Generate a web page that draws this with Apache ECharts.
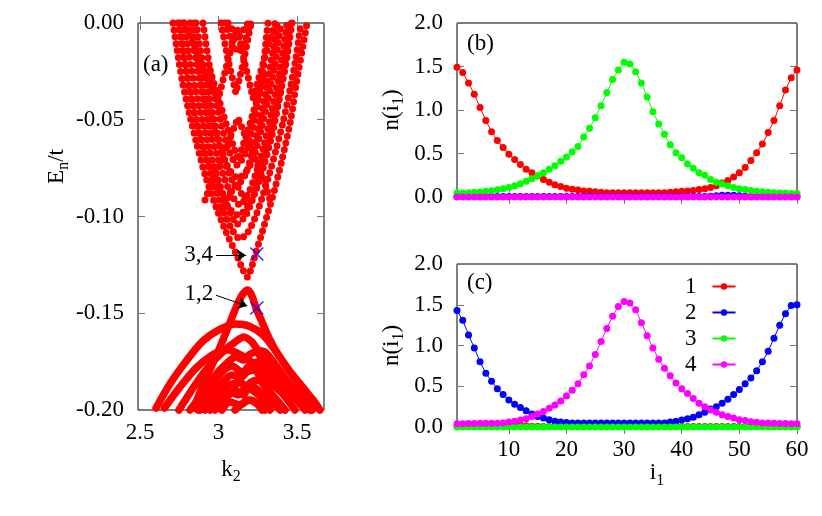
<!DOCTYPE html>
<html>
<head>
<meta charset="utf-8">
<title>Band structure and edge-state densities</title>
<script src="https://cdn.jsdelivr.net/npm/echarts@6/dist/echarts.min.js"></script>
<style>
  html, body { margin: 0; padding: 0; background: #fff; }
  #chart { width: 822px; height: 516px; }
</style>
</head>
<body>
<div id="chart"></div>
<script>
// ---- panel (a): bands E_n(k2) ----
// upper (conduction) bands, drawn dotted
const bandU1 = [[2.710,0],[2.736,-0.014],[2.768,-0.0295],[2.812,-0.046],[2.863,-0.063],[2.920,-0.080],[2.984,-0.095],[3.048,-0.108],[3.111,-0.119],[3.156,-0.1276],[3.185,-0.1313],[3.213,-0.1256],[3.239,-0.1183],[3.271,-0.110],[3.315,-0.098],[3.360,-0.0853],[3.404,-0.0708],[3.436,-0.0594],[3.462,-0.0491],[3.494,-0.032],[3.532,-0.0145],[3.564,0]];
const bandU2 = [[2.742,0],[2.774,-0.0165],[2.812,-0.0336],[2.857,-0.050],[2.908,-0.0667],[2.965,-0.0822],[3.022,-0.0956],[3.080,-0.106],[3.137,-0.1116],[3.188,-0.108],[3.232,-0.1008],[3.277,-0.0904],[3.322,-0.0786],[3.366,-0.0656],[3.411,-0.0512],[3.455,-0.0346],[3.494,-0.0176],[3.525,0]];
const bandU3 = [[2.780,0],[2.812,-0.0165],[2.850,-0.0336],[2.895,-0.05],[2.946,-0.0667],[3.003,-0.0822],[3.061,-0.0956],[3.118,-0.1039],[3.175,-0.0992],[3.220,-0.0904],[3.264,-0.0786],[3.309,-0.0656],[3.354,-0.0512],[3.398,-0.0346],[3.436,-0.0176],[3.468,0]];
const bandU4 = [[2.818,0],[2.857,-0.0191],[2.901,-0.0398],[2.952,-0.0579],[3.010,-0.0734],[3.073,-0.0873],[3.137,-0.0941],[3.194,-0.0873],[3.245,-0.076],[3.290,-0.063],[3.334,-0.0475],[3.379,-0.0295],[3.417,-0.0114],[3.436,0]];
const bandU5 = [[2.857,0],[2.901,-0.0217],[2.952,-0.0424],[3.003,-0.0605],[3.061,-0.076],[3.111,-0.0842],[3.169,-0.0786],[3.220,-0.0656],[3.264,-0.05],[3.309,-0.032],[3.347,-0.014],[3.373,0]];
const bandU6 = [[2.901,0],[2.946,-0.0243],[2.997,-0.045],[3.054,-0.063],[3.118,-0.0734],[3.182,-0.0656],[3.232,-0.0491],[3.277,-0.0295],[3.303,-0.0088],[3.315,0]];
const bandU7 = [[2.755,0],[2.787,-0.0191],[2.831,-0.0398],[2.882,-0.0579],[2.939,-0.0734],[3.003,-0.0863],[3.067,-0.0956],[3.124,-0.0992],[3.182,-0.0956],[3.239,-0.0863],[3.290,-0.0734],[3.341,-0.0579],[3.385,-0.0398],[3.430,-0.0191],[3.462,0]];
const bandU8 = [[2.838,0],[2.876,-0.0217],[2.920,-0.0398],[2.971,-0.0553],[3.029,-0.0693],[3.080,-0.077],[3.124,-0.0801],[3.175,-0.077],[3.226,-0.0693],[3.271,-0.0553],[3.315,-0.0398],[3.360,-0.0217],[3.398,0]];
const bandU9 = [[3.041,0],[3.080,-0.0088],[3.124,-0.015],[3.169,-0.0088],[3.207,0]];
// crossing branches that make the diamond holes
const bandZ1 = [[2.780,0],[2.850,-0.014],[2.920,-0.0269],[2.997,-0.0398],[3.054,-0.0212],[3.118,-0.0026],[3.169,-0.0212],[3.220,-0.0388],[3.290,-0.0191],[3.360,0]];
const bandV1 = [[3.016,0],[3.061,-0.0191],[3.111,-0.0362],[3.162,-0.0191],[3.207,0]];
const bandN1 = [[3.061,0],[3.124,-0.0078],[3.188,0]];
const bandZ2 = [[2.914,-0.0915],[2.959,-0.0811],[3.041,-0.0656],[3.124,-0.0491],[3.207,-0.0656],[3.290,-0.0811],[3.328,-0.0915]];
const bandV2 = [[2.946,-0.0243],[3.003,-0.0398],[3.061,-0.0553],[3.124,-0.0708],[3.188,-0.0553],[3.245,-0.0398],[3.296,-0.0243]];
const bandN2 = [[3.022,-0.0966],[3.111,-0.0827],[3.201,-0.0966]];

// lower (valence) bands, drawn solid
const bandL1 = [[2.844,-0.199],[2.901,-0.1871],[2.959,-0.1767],[3.010,-0.1674],[3.054,-0.1587],[3.092,-0.1509],[3.124,-0.1447],[3.156,-0.140],[3.188,-0.138],[3.213,-0.1411],[3.239,-0.1473],[3.277,-0.1545],[3.322,-0.1628],[3.373,-0.1705],[3.430,-0.1773],[3.487,-0.1835],[3.545,-0.1897],[3.602,-0.1948],[3.646,-0.2]];
const bandL2 = [[2.602,-0.199],[2.687,-0.1869],[2.793,-0.1748],[2.899,-0.1645],[3.005,-0.1585],[3.111,-0.1556],[3.196,-0.1567],[3.282,-0.1611],[3.366,-0.1697],[3.451,-0.18],[3.557,-0.1903],[3.632,-0.199]];
const bandL3 = [[2.655,-0.199],[2.750,-0.1886],[2.857,-0.1783],[2.963,-0.1714],[3.048,-0.1688],[3.175,-0.1731],[3.303,-0.1818],[3.430,-0.1903],[3.578,-0.199]];
const bandL4 = [[2.748,-0.2],[2.850,-0.1871],[2.946,-0.1767],[3.041,-0.169],[3.105,-0.1649],[3.162,-0.1623],[3.213,-0.1649],[3.252,-0.169],[3.296,-0.170],[3.341,-0.1742],[3.424,-0.1835],[3.506,-0.1912],[3.596,-0.2]];
const bandL5 = [[2.818,-0.2],[2.914,-0.1897],[2.997,-0.1804],[3.061,-0.1752],[3.111,-0.1726],[3.156,-0.1742],[3.201,-0.1711],[3.239,-0.170],[3.283,-0.1742],[3.328,-0.1767],[3.379,-0.1804],[3.455,-0.1871],[3.532,-0.1938],[3.583,-0.2]];
const bandL6 = [[2.882,-0.2],[2.959,-0.1922],[3.022,-0.186],[3.086,-0.1819],[3.137,-0.1835],[3.182,-0.1804],[3.226,-0.1793],[3.277,-0.1835],[3.328,-0.186],[3.404,-0.1912],[3.487,-0.2]];
const bandL7 = [[2.946,-0.2],[3.010,-0.1938],[3.073,-0.1907],[3.124,-0.1922],[3.169,-0.1886],[3.213,-0.1876],[3.264,-0.1907],[3.315,-0.1938],[3.392,-0.2]];
const bandL8 = [[3.022,-0.2],[3.073,-0.1959],[3.137,-0.1974],[3.188,-0.1948],[3.239,-0.1959],[3.296,-0.2]];
const bandL9 = [[2.914,-0.2],[2.978,-0.1922],[3.061,-0.1871],[3.137,-0.186],[3.213,-0.1897],[3.277,-0.1938],[3.328,-0.2]];
const bandL10 = [[2.869,-0.2],[2.946,-0.1886],[3.022,-0.1804],[3.086,-0.1773],[3.150,-0.1804],[3.201,-0.1767],[3.252,-0.1752],[3.303,-0.1793],[3.366,-0.1835],[3.455,-0.1907],[3.551,-0.2]];
const bandL11 = [[2.978,-0.2],[3.041,-0.1948],[3.105,-0.1897],[3.156,-0.1922],[3.201,-0.186],[3.252,-0.1845],[3.303,-0.1886],[3.360,-0.1938],[3.424,-0.2]];
const bandL12 = [[3.105,-0.2],[3.150,-0.1969],[3.201,-0.1948],[3.252,-0.1974],[3.277,-0.2]];

const dottedBands = [bandU1, bandU2, bandU3, bandU4, bandU5, bandU6, bandU7, bandU8, bandU9];
const dottedZigzags = [bandZ1, bandV1, bandN1, bandZ2, bandV2, bandN2];
const solidBands = [bandL1, bandL2, bandL3, bandL4, bandL5, bandL6, bandL7, bandL8, bandL9, bandL10, bandL11, bandL12];

// marked states and their labels
const markedStates = [[3.244, -0.1194], [3.244, -0.1473]];
const stateLabels = ['3,4', '1,2'];
const arrowFrom = [[2.984, -0.120], [2.984, -0.1407]];
const arrowTo = [[3.175, -0.120], [3.183, -0.1463]];
const kTicks = [2.5, 3, 3.5];

// ---- panels (b), (c): n(i1) for states 1..4 ----
const siteTicks = [10, 20, 30, 40, 50, 60];
const stateNames = ['1', '2', '3', '4'];
const stateColors = ['#ff0000', '#0000ff', '#00ff00', '#ff00ff'];

const nB1 = [1.49,1.43,1.31,1.18,1.03,0.88,0.75,0.65,0.57,0.49,
             0.43,0.375,0.32,0.28,0.24,0.20,0.17,0.14,0.12,0.10,
             0.09,0.08,0.07,0.065,0.06,0.055,0.05,0.05,0.05,0.05,
             0.05,0.05,0.05,0.05,0.05,0.05,0.05,0.055,0.06,0.065,
             0.07,0.075,0.085,0.095,0.11,0.13,0.16,0.19,0.23,0.28,
             0.34,0.42,0.51,0.61,0.74,0.88,1.05,1.23,1.37,1.46];
const nB2 = [0.005,0.005,0.005,0.005,0.005,0.005,0.005,0.005,0.005,0.005,
             0.005,0.005,0.005,0.005,0.005,0.005,0.005,0.005,0.005,0.005,
             0.005,0.005,0.005,0.005,0.005,0.005,0.005,0.005,0.005,0.005,
             0.005,0.005,0.005,0.005,0.005,0.005,0.005,0.005,0.005,0.005,
             0.005,0.005,0.005,0.005,0.01,0.015,0.02,0.02,0.02,0.015,
             0.01,0.005,0.005,0.005,0.005,0.005,0.005,0.005,0.005,0.005];
const nB3 = [0.045,0.046,0.05,0.054,0.057,0.065,0.073,0.084,0.096,0.11,
             0.13,0.153,0.18,0.21,0.245,0.28,0.32,0.36,0.41,0.46,
             0.52,0.58,0.69,0.79,0.91,1.05,1.2,1.35,1.46,1.55,
             1.53,1.44,1.31,1.15,0.98,0.84,0.72,0.6,0.51,0.45,
             0.38,0.33,0.28,0.25,0.2,0.17,0.15,0.13,0.11,0.095,
             0.085,0.075,0.065,0.06,0.055,0.05,0.045,0.045,0.04,0.04];
const nB4 = [0,0,0,0,0,0,0,0,0,0, 0,0,0,0,0,0,0,0,0,0, 0,0,0,0,0,0,0,0,0,0,
             0,0,0,0,0,0,0,0,0,0, 0,0,0,0,0,0,0,0,0,0, 0,0,0,0,0,0,0,0,0,0];

const nC1 = [0.005,0.005,0.005,0.005,0.005,0.008,0.01,0.015,0.02,0.02,
             0.02,0.018,0.015,0.01,0.008,0.005,0.005,0.005,0.005,0.005,
             0.005,0.005,0.005,0.005,0.005,0.005,0.005,0.005,0.005,0.005,
             0.005,0.005,0.005,0.005,0.005,0.005,0.005,0.005,0.005,0.005,
             0.005,0.005,0.005,0.005,0.005,0.005,0.005,0.005,0.005,0.005,
             0.005,0.005,0.005,0.005,0.005,0.005,0.005,0.005,0.005,0.005];
const nC2 = [1.43,1.31,1.13,0.97,0.80,0.66,0.56,0.47,0.40,0.33,
             0.28,0.24,0.20,0.16,0.13,0.11,0.09,0.07,0.06,0.055,
             0.05,0.05,0.05,0.05,0.05,0.05,0.05,0.05,0.05,0.05,
             0.05,0.05,0.05,0.05,0.05,0.05,0.05,0.06,0.07,0.085,
             0.1,0.12,0.15,0.18,0.22,0.25,0.29,0.34,0.4,0.46,
             0.53,0.6,0.69,0.8,0.93,1.09,1.25,1.39,1.49,1.5];
const nC3 = [0,0,0,0,0,0,0,0,0,0, 0,0,0,0,0,0,0,0,0,0, 0,0,0,0,0,0,0,0,0,0,
             0,0,0,0,0,0,0,0,0,0, 0,0,0,0,0,0,0,0,0,0, 0,0,0,0,0,0,0,0,0,0];
const nC4 = [0.04,0.04,0.042,0.043,0.045,0.045,0.046,0.047,0.05,0.06,
             0.07,0.085,0.1,0.13,0.16,0.19,0.23,0.27,0.32,0.38,
             0.45,0.53,0.64,0.75,0.89,1.05,1.21,1.36,1.48,1.54,
             1.52,1.44,1.28,1.12,0.97,0.83,0.72,0.63,0.54,0.47,
             0.41,0.35,0.29,0.25,0.21,0.18,0.15,0.13,0.11,0.09,
             0.08,0.065,0.057,0.05,0.048,0.045,0.043,0.042,0.04,0.04];

const panelB = [nB1, nB2, nB3, nB4];
const panelC = [nC1, nC2, nC3, nC4];

// ---- chart ----
const FONT = '"Liberation Serif", "Times New Roman", serif';
const FS = 23;
const RED = '#ff0000';

const chart = echarts.init(document.getElementById('chart'), null, { renderer: 'canvas' });

const tickStyle = { show: true, inside: true, length: 7, lineStyle: { color: '#777', width: 1 } };
const labelStyle = { color: '#000', fontFamily: FONT, fontSize: FS };
const subRich = {
    m: { fontFamily: FONT, fontSize: FS, color: '#000' },
    s: { fontFamily: FONT, fontSize: 16, color: '#000', padding: [14, 0, 0, 0] }
};

function frameAxis(gridIndex, position, extra) {
    return Object.assign({
        gridIndex: gridIndex,
        type: 'value',
        position: position,
        axisLine: { show: false },
        axisTick: tickStyle,
        axisLabel: { show: false },
        splitLine: { show: false }
    }, extra);
}

const kRange = { min: 2.487, max: 3.672 };
const eRange = { min: -0.2, max: 0, interval: 0.05 };
const iRange = { min: 1, max: 60 };
const nRange = { min: 0, max: 2, interval: 0.5 };

const xAxes = [
    frameAxis(0, 'bottom', Object.assign({}, kRange, {
        axisTick: Object.assign({}, tickStyle, { customValues: kTicks }),
        axisLabel: Object.assign({}, labelStyle, { show: true, customValues: kTicks, margin: 11 }),
        name: '{m|k}{s|2}', nameLocation: 'middle', nameGap: 45,
        nameTextStyle: { fontFamily: FONT, fontSize: FS, color: '#000', rich: subRich }
    })),
    frameAxis(0, 'top', Object.assign({}, kRange, {
        axisTick: Object.assign({}, tickStyle, { customValues: kTicks })
    })),
    frameAxis(1, 'bottom', Object.assign({}, iRange, {
        axisTick: Object.assign({}, tickStyle, { customValues: siteTicks })
    })),
    frameAxis(1, 'top', Object.assign({}, iRange, {
        axisTick: Object.assign({}, tickStyle, { customValues: siteTicks })
    })),
    frameAxis(2, 'bottom', Object.assign({}, iRange, {
        axisTick: Object.assign({}, tickStyle, { customValues: siteTicks }),
        axisLabel: Object.assign({}, labelStyle, { show: true, customValues: siteTicks, margin: 11 }),
        name: '{m|i}{s|1}', nameLocation: 'middle', nameGap: 30,
        nameTextStyle: { fontFamily: FONT, fontSize: FS, color: '#000', padding: [0, 0, 0, 60], rich: subRich }
    })),
    frameAxis(2, 'top', Object.assign({}, iRange, {
        axisTick: Object.assign({}, tickStyle, { customValues: siteTicks })
    }))
];

const nYName = {
    name: '{m|n(i}{s|1}{m|)}', nameLocation: 'middle', nameGap: 50,
    nameTextStyle: { fontFamily: FONT, fontSize: FS, color: '#000', rich: subRich }
};

const yAxes = [
    frameAxis(0, 'left', Object.assign({}, eRange, {
        axisLabel: Object.assign({}, labelStyle, { show: true, margin: 14, formatter: v => v.toFixed(2) }),
        name: '{m|E}{s|n}{m|/t}', nameLocation: 'middle', nameGap: 66,
        nameTextStyle: { fontFamily: FONT, fontSize: FS, color: '#000', padding: [0, 0, 0, 100], rich: subRich }
    })),
    frameAxis(0, 'right', eRange),
    frameAxis(1, 'left', Object.assign({}, nRange, nYName, {
        axisLabel: Object.assign({}, labelStyle, { show: true, margin: 14, formatter: v => v.toFixed(1) })
    })),
    frameAxis(1, 'right', nRange),
    frameAxis(2, 'left', Object.assign({}, nRange, nYName, {
        axisLabel: Object.assign({}, labelStyle, { show: true, margin: 14, formatter: v => v.toFixed(1) })
    })),
    frameAxis(2, 'right', nRange)
];

function bandSeries(data, dotted, smooth) {
    return {
        type: 'line',
        name: 'band',
        xAxisIndex: 0,
        yAxisIndex: 0,
        data: data,
        symbol: 'none',
        smooth: smooth,
        clip: false,
        silent: true,
        lineStyle: {
            color: RED,
            width: dotted ? 7 : 7.5,
            type: dotted ? [0, 7] : 'solid',
            cap: 'round',
            join: 'round'
        },
        z: 2
    };
}

const series = [];
dottedBands.forEach(b => series.push(bandSeries(b, true, 0.25)));
dottedZigzags.forEach(b => series.push(bandSeries(b, true, 0)));
solidBands.forEach(b => series.push(bandSeries(b, false, 0.3)));

series.push({
    type: 'scatter',
    name: 'marked',
    xAxisIndex: 0,
    yAxisIndex: 0,
    data: markedStates,
    symbol: 'path://M0,0L10,10M10,0L0,10',
    symbolSize: 13,
    itemStyle: { color: 'none', borderColor: '#0000ff', borderWidth: 1.6 },
    silent: true,
    z: 5,
    markLine: {
        silent: true,
        symbol: ['none', 'arrow'],
        symbolSize: 9,
        lineStyle: { color: '#000', width: 1, type: 'solid' },
        label: { show: true, position: 'start', formatter: '{b}', distance: 3,
                 color: '#000', fontFamily: FONT, fontSize: FS },
        data: stateLabels.map((lab, i) => [
            { coord: arrowFrom[i], name: lab },
            { coord: arrowTo[i] }
        ])
    }
});

const siteIndex = Array.from({ length: 60 }, (_, i) => i + 1);

function densitySeries(vals, s, gridIndex) {
    return {
        type: 'line',
        name: stateNames[s],
        xAxisIndex: gridIndex,
        yAxisIndex: gridIndex,
        data: vals.map((v, i) => [siteIndex[i], v]),
        symbol: 'circle',
        symbolSize: 7,
        clip: false,
        lineStyle: { color: stateColors[s], width: 1 },
        itemStyle: { color: stateColors[s] },
        z: 3
    };
}

panelB.forEach((vals, s) => series.push(densitySeries(vals, s, 2)));
panelC.forEach((vals, s) => series.push(densitySeries(vals, s, 4)));

const gridBox = { show: true, borderColor: '#000', borderWidth: 1, backgroundColor: 'transparent' };

const option = {
    animation: false,
    backgroundColor: '#fff',
    textStyle: { fontFamily: FONT },
    grid: [
        Object.assign({ left: 138, top: 23, width: 186, height: 387 }, gridBox),
        Object.assign({ left: 457, top: 23, width: 340, height: 174 }, gridBox),
        Object.assign({ left: 457, top: 264, width: 340, height: 163 }, gridBox)
    ],
    xAxis: xAxes,
    yAxis: yAxes,
    legend: {
        data: stateNames,
        orient: 'vertical',
        left: 680,
        top: 270,
        align: 'right',
        itemWidth: 23,
        itemHeight: 8,
        itemGap: 3,
        textStyle: { color: '#000', fontFamily: FONT, fontSize: FS, lineHeight: 23, padding: [0, 11, 0, 0] },
        selectedMode: false
    },
    graphic: [
        { type: 'text', left: 143, top: 53, style: { text: '(a)', font: FS + 'px ' + FONT, fill: '#000' } },
        { type: 'text', left: 467, top: 32, style: { text: '(b)', font: FS + 'px ' + FONT, fill: '#000' } },
        { type: 'text', left: 467, top: 271, style: { text: '(c)', font: FS + 'px ' + FONT, fill: '#000' } }
    ],
    series: series
};

chart.setOption(option);
</script>
</body>
</html>
